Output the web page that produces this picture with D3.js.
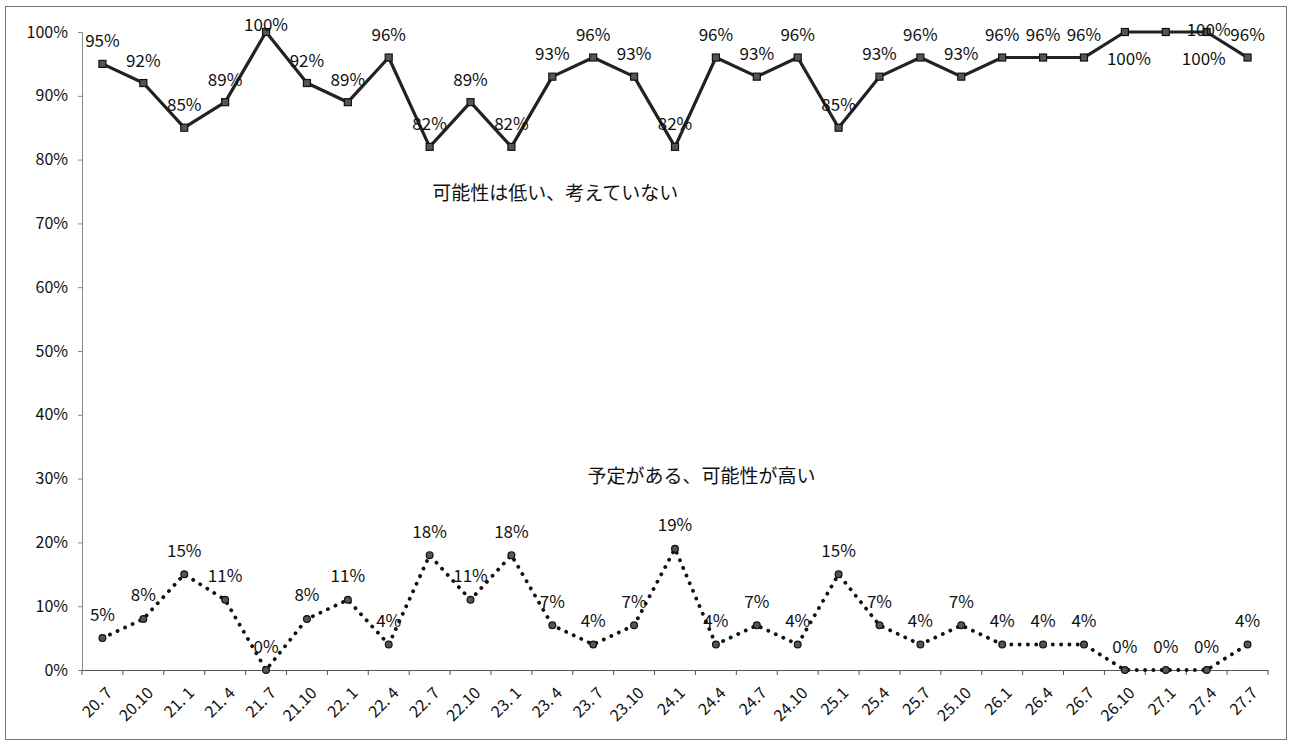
<!DOCTYPE html>
<html>
<head>
<meta charset="utf-8">
<script src="https://cdn.jsdelivr.net/npm/d3@7"></script>
<style>
  html, body { margin: 0; padding: 0; background: #fff; }
  svg { display: block; }
  text { font-family: "Noto Sans CJK JP", "Noto Sans", sans-serif; fill: #111; }
</style>
</head>
<body>
<svg id="chart" width="1290" height="742"></svg>
<script>
// ---- data ----
const categories = ["20. 7","20.10","21. 1","21. 4","21. 7","21.10","22. 1","22. 4","22. 7","22.10",
  "23. 1","23. 4","23. 7","23.10","24.1","24.4","24.7","24.10","25.1","25.4","25.7","25.10",
  "26.1","26.4","26.7","26.10","27.1","27.4","27.7"];
const lowValues  = [95, 92, 85, 89, 100, 92, 89, 96, 82, 89, 82, 93, 96, 93, 82, 96, 93, 96, 85, 93, 96, 93, 96, 96, 96, 100, 100, 100, 96];
const highValues = [5, 8, 15, 11, 0, 8, 11, 4, 18, 11, 18, 7, 4, 7, 19, 4, 7, 4, 15, 7, 4, 7, 4, 4, 4, 0, 0, 0, 4];
const yTicks = [0, 10, 20, 30, 40, 50, 60, 70, 80, 90, 100];
const lowName = "可能性は低い、考えていない";
const highName = "予定がある、可能性が高い";

// ---- layout ----
const svg = d3.select("#chart");
const plot = { left: 82, right: 1268, top: 32, bottom: 670 };

svg.append("rect").attr("x", 5.5).attr("y", 6.5).attr("width", 1281).attr("height", 733)
  .attr("fill", "none").attr("stroke", "#777").attr("stroke-width", 1);

const x = d3.scaleBand().domain(categories).range([plot.left, plot.right]);
const y = d3.scaleLinear().domain([0, 100]).range([plot.bottom, plot.top]);
const cx = c => x(c) + x.bandwidth() / 2;

// y axis
const yAxis = d3.axisLeft(y).tickValues(yTicks).tickSize(4).tickPadding(10).tickFormat(d => d + "%");
const gy = svg.append("g").attr("transform", `translate(${plot.left},0)`).call(yAxis);
gy.select(".domain").attr("stroke", "#888");
gy.selectAll(".tick line").attr("stroke", "#888");
gy.selectAll(".tick text").attr("font-size", 16).attr("fill", "#111");

// x axis
const xAxis = d3.axisBottom(x).tickSize(0).tickFormat(d => d);
const gx = svg.append("g").attr("transform", `translate(0,${plot.bottom})`).call(xAxis);
gx.select(".domain").attr("stroke", "#555").attr("stroke-width", 1.2);
gx.selectAll(".tick text")
  .attr("font-size", 16).attr("fill", "#111")
  .attr("text-anchor", "end")
  .attr("transform", "translate(7,20) rotate(-45)")
  .attr("dy", "0.35em").attr("y", 0).attr("x", 0);
// tick marks at band boundaries
const bounds = categories.map(c => x(c)).concat([plot.right]);
svg.append("g").selectAll("line").data(bounds).join("line")
  .attr("x1", d => d).attr("x2", d => d)
  .attr("y1", plot.bottom).attr("y2", plot.bottom + 5)
  .attr("stroke", "#555");

// lines
const line = d3.line().x((d, i) => cx(categories[i])).y(d => y(d));

svg.append("path").datum(lowValues).attr("d", line)
  .attr("fill", "none").attr("stroke", "#222").attr("stroke-width", 3.2)
  .attr("stroke-linejoin", "round");
svg.append("g").selectAll("rect").data(lowValues).join("rect")
  .attr("x", (d, i) => cx(categories[i]) - 3.5).attr("y", d => y(d) - 3.5)
  .attr("width", 7).attr("height", 7)
  .attr("fill", "#555").attr("stroke", "#111").attr("stroke-width", 1.2);

svg.append("path").datum(highValues).attr("d", line)
  .attr("fill", "none").attr("stroke", "#111").attr("stroke-width", 3.8)
  .attr("stroke-linecap", "round").attr("stroke-dasharray", "0.1 8.2");
svg.append("g").selectAll("circle").data(highValues).join("circle")
  .attr("cx", (d, i) => cx(categories[i])).attr("cy", d => y(d))
  .attr("r", 3.4).attr("fill", "#555").attr("stroke", "#111").attr("stroke-width", 1.2);

// data labels
const lowNudge = { "26.10": [4, 49], "27.1": [38, 49], "27.4": [2, 20] };
svg.append("g").selectAll("text").data(lowValues).join("text")
  .attr("x", (d, i) => cx(categories[i]) + (lowNudge[categories[i]] ? lowNudge[categories[i]][0] : 0))
  .attr("y", (d, i) => {
    const n = lowNudge[categories[i]];
    const base = Math.max(y(d) - 24, plot.top - 9);
    return n ? y(d) - 24 + n[1] : base;
  })
  .attr("text-anchor", "middle").attr("dominant-baseline", "central")
  .attr("font-size", 17).text(d => d + "%");

svg.append("g").selectAll("text").data(highValues).join("text")
  .attr("x", (d, i) => cx(categories[i]))
  .attr("y", d => y(d) - 25)
  .attr("text-anchor", "middle").attr("dominant-baseline", "central")
  .attr("font-size", 17).text(d => d + "%");

// series names
svg.append("text").attr("x", cx("23. 4") + 3).attr("y", y(75))
  .attr("text-anchor", "middle").attr("dominant-baseline", "central")
  .attr("font-size", 19).text(lowName);
svg.append("text").attr("x", (cx("24.1") + cx("24.4")) / 2 + 6).attr("y", y(30.6))
  .attr("text-anchor", "middle").attr("dominant-baseline", "central")
  .attr("font-size", 19).text(highName);
</script>
</body>
</html>
